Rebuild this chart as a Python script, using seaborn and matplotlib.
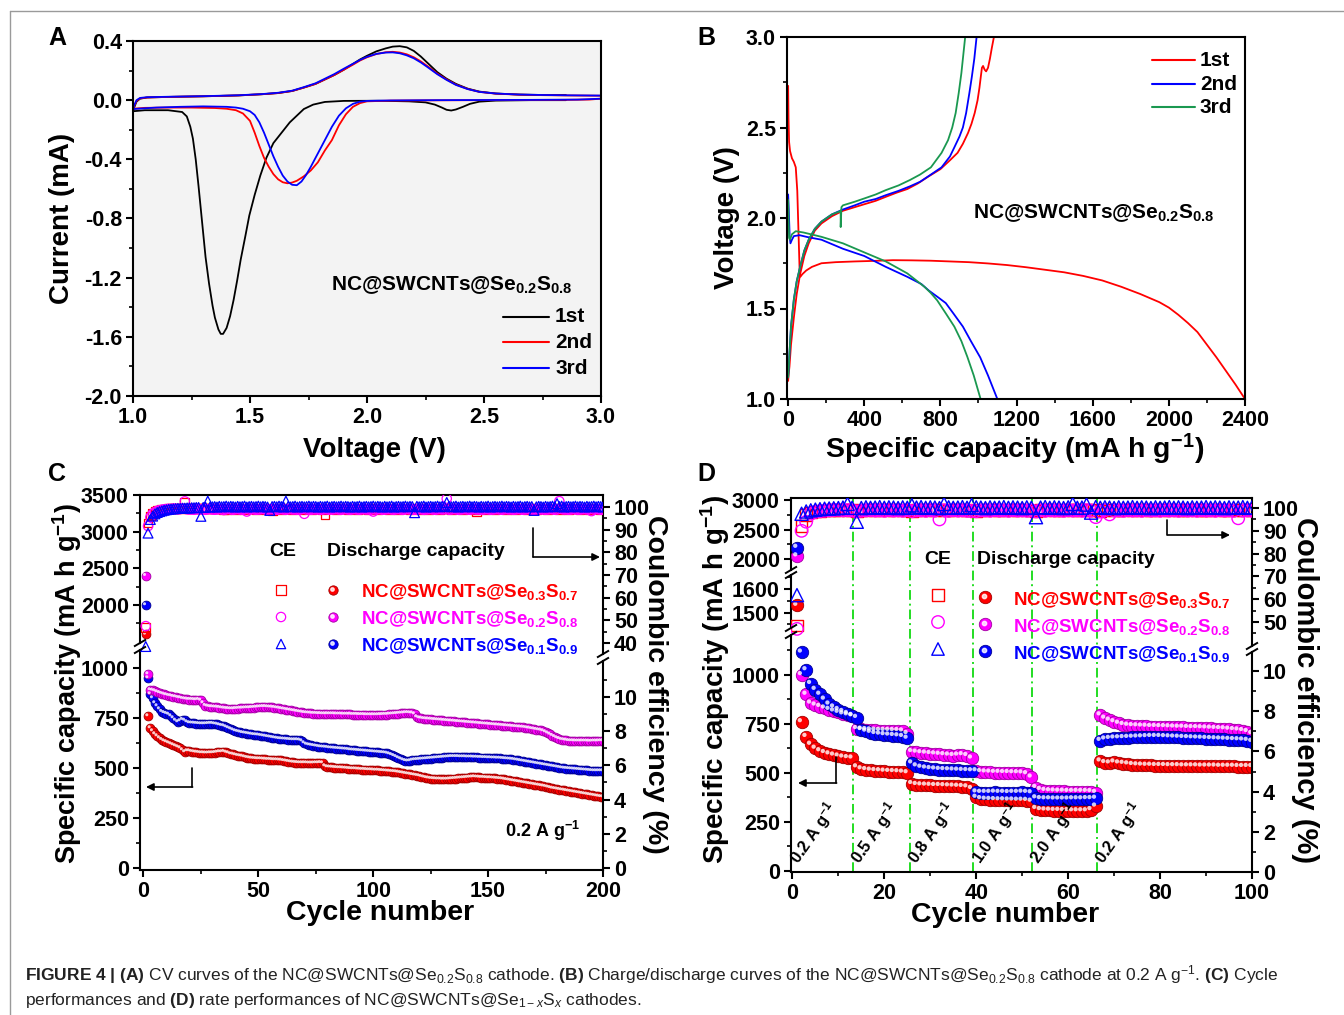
import numpy as np
import matplotlib
matplotlib.use("Agg")
import matplotlib.pyplot as plt
import matplotlib.transforms as mtransforms
from matplotlib.ticker import FixedLocator, FormatStrFormatter
import seaborn as sns

# ======================= DATA =======================
# ---- Panel A : CV curves (voltage V, current mA) ----
cv1_v = [2.85, 2.70, 2.55, 2.48, 2.44, 2.41, 2.38, 2.36, 2.34, 2.32, 2.29, 2.25, 2.18, 2.05, 1.90,
         1.82, 1.77, 1.73, 1.67, 1.60, 1.57, 1.544, 1.52, 1.497, 1.48, 1.46, 1.445, 1.43, 1.415, 1.40,
         1.385, 1.375, 1.365, 1.35, 1.34, 1.325, 1.31, 1.295, 1.28, 1.268, 1.256, 1.245, 1.23, 1.21,
         1.15, 1.05, 1.00,
         1.00, 1.005, 1.015, 1.03, 1.06, 1.15, 1.30, 1.45, 1.55, 1.62, 1.68, 1.73, 1.78, 1.82, 1.86,
         1.90, 1.94, 1.97, 2.00, 2.04, 2.08, 2.11, 2.14, 2.17, 2.20, 2.23, 2.26, 2.30, 2.34, 2.38,
         2.43, 2.48, 2.55, 2.65, 2.75, 2.85]
cv1_i = [0.000, 0.000, -0.003, -0.010, -0.025, -0.045, -0.063, -0.070, -0.065, -0.050, -0.030, -0.015,
         -0.008, -0.004, -0.005, -0.012, -0.030, -0.060, -0.150, -0.290, -0.390, -0.510, -0.640, -0.780,
         -0.920, -1.080, -1.220, -1.350, -1.460, -1.540, -1.580, -1.580, -1.550, -1.470, -1.390, -1.240,
         -1.060, -0.820, -0.580, -0.400, -0.260, -0.180, -0.110, -0.080, -0.068, -0.068, -0.075,
         -0.075, -0.050, -0.010, 0.010, 0.018, 0.022, 0.026, 0.032, 0.040, 0.048, 0.062, 0.085, 0.110,
         0.140, 0.170, 0.205, 0.245, 0.275, 0.300, 0.330, 0.350, 0.362, 0.365, 0.357, 0.333, 0.295,
         0.250, 0.190, 0.145, 0.110, 0.078, 0.058, 0.045, 0.038, 0.035, 0.035]
cv2_v = [3.00, 2.95, 2.85, 2.70, 2.50, 2.30, 2.10, 2.00, 1.97, 1.94, 1.91, 1.88, 1.85, 1.82, 1.79,
         1.76, 1.73, 1.70, 1.68, 1.66, 1.64, 1.62, 1.60, 1.58, 1.56, 1.54, 1.52, 1.50, 1.47, 1.44,
         1.40, 1.35, 1.25, 1.15, 1.05, 1.00,
         1.00, 1.005, 1.015, 1.03, 1.06, 1.15, 1.30, 1.45, 1.55, 1.62, 1.68, 1.73, 1.78, 1.82, 1.86,
         1.90, 1.94, 1.97, 2.00, 2.04, 2.08, 2.11, 2.14, 2.17, 2.20, 2.23, 2.26, 2.30, 2.34, 2.38,
         2.43, 2.48, 2.55, 2.65, 2.75, 2.85, 3.00]
cv2_i = [0.010, 0.004, 0.002, 0.001, 0.000, -0.001, -0.003, -0.008, -0.020, -0.045, -0.095, -0.170,
         -0.270, -0.340, -0.420, -0.475, -0.515, -0.545, -0.557, -0.562, -0.555, -0.535, -0.500, -0.450,
         -0.390, -0.310, -0.220, -0.140, -0.090, -0.068, -0.058, -0.053, -0.050, -0.050, -0.052, -0.058,
         -0.058, -0.040, -0.005, 0.012, 0.018, 0.022, 0.026, 0.032, 0.040, 0.048, 0.062, 0.085, 0.110,
         0.140, 0.170, 0.205, 0.240, 0.268, 0.290, 0.312, 0.324, 0.327, 0.322, 0.310, 0.290, 0.262,
         0.228, 0.180, 0.140, 0.105, 0.076, 0.056, 0.044, 0.037, 0.034, 0.032, 0.030]
cv3_v = [3.00, 2.90, 2.70, 2.50, 2.30, 2.10, 2.00, 1.97, 1.94, 1.91, 1.88, 1.85, 1.82, 1.79, 1.76,
         1.74, 1.72, 1.70, 1.68, 1.66, 1.64, 1.62, 1.60, 1.58, 1.56, 1.54, 1.52, 1.50, 1.47, 1.44,
         1.40, 1.30, 1.20, 1.10, 1.00,
         1.00, 1.005, 1.015, 1.03, 1.06, 1.15, 1.30, 1.45, 1.55, 1.62, 1.68, 1.73, 1.78, 1.82, 1.86,
         1.90, 1.94, 1.97, 2.00, 2.04, 2.08, 2.11, 2.14, 2.17, 2.20, 2.23, 2.26, 2.30, 2.34, 2.38,
         2.43, 2.48, 2.55, 2.65, 2.75, 2.85, 3.00]
cv3_i = [0.010, 0.004, 0.002, 0.001, 0.000, -0.002, -0.005, -0.010, -0.025, -0.055, -0.105, -0.180,
         -0.270, -0.360, -0.450, -0.505, -0.550, -0.575, -0.572, -0.550, -0.510, -0.450, -0.380, -0.300,
         -0.220, -0.150, -0.100, -0.075, -0.058, -0.050, -0.045, -0.042, -0.045, -0.050, -0.060,
         -0.060, -0.035, 0.000, 0.015, 0.020, 0.023, 0.027, 0.033, 0.041, 0.050, 0.064, 0.088, 0.114,
         0.145, 0.176, 0.212, 0.246, 0.272, 0.293, 0.313, 0.322, 0.323, 0.317, 0.303, 0.283, 0.255,
         0.222, 0.176, 0.137, 0.103, 0.075, 0.056, 0.045, 0.038, 0.035, 0.033, 0.031]

# ---- Panel B : charge/discharge (capacity mAh/g, voltage V) ----
b1_dis_cap = [0, 2, 5, 10, 20, 30, 40, 48, 55, 60, 64, 75, 95, 125, 175, 250, 350, 450, 550, 650,
              750, 850, 950, 1050, 1150, 1250, 1350, 1450, 1550, 1650, 1750, 1850, 1950, 2000, 2050,
              2100, 2150, 2200, 2250, 2300, 2350, 2400]
b1_dis_v = [2.73, 2.55, 2.42, 2.37, 2.33, 2.31, 2.28, 2.15, 1.90, 1.72, 1.675, 1.69, 1.71, 1.73, 1.75,
            1.756, 1.760, 1.763, 1.767, 1.766, 1.764, 1.760, 1.756, 1.749, 1.740, 1.728, 1.714, 1.700,
            1.680, 1.655, 1.620, 1.580, 1.535, 1.505, 1.465, 1.420, 1.370, 1.300, 1.230, 1.155, 1.080,
            1.000]
b1_chg_cap = [0, 3, 7, 15, 30, 45, 63, 85, 108, 140, 175, 230, 288, 350, 400, 460, 513, 570, 626, 680,
              738, 800, 851, 890, 918, 945, 963, 980, 995, 1005, 1012, 1018, 1024, 1032, 1040, 1050,
              1060, 1070, 1081]
b1_chg_v = [1.10, 1.14, 1.18, 1.30, 1.45, 1.58, 1.69, 1.79, 1.86, 1.93, 1.97, 2.01, 2.04, 2.06, 2.076,
            2.095, 2.117, 2.14, 2.16, 2.19, 2.23, 2.27, 2.32, 2.36, 2.41, 2.47, 2.52, 2.58, 2.65, 2.72,
            2.78, 2.83, 2.84, 2.82, 2.81, 2.83, 2.88, 2.94, 3.00]
b2_dis_cap = [0, 3, 8, 12, 20, 30, 60, 100, 175, 288, 400, 513, 626, 700, 738, 790, 828, 870, 918, 960,
              1009, 1050, 1099]
b2_dis_v = [2.13, 2.05, 1.90, 1.86, 1.88, 1.90, 1.905, 1.895, 1.88, 1.83, 1.79, 1.73, 1.675, 1.635,
            1.60, 1.56, 1.53, 1.47, 1.40, 1.32, 1.23, 1.13, 1.00]
b2_chg_cap = [0, 3, 7, 15, 30, 45, 63, 85, 108, 140, 175, 230, 288, 350, 400, 460, 513, 580, 640, 693,
              750, 806, 850, 873, 900, 918, 935, 952, 965, 978, 990]
b2_chg_v = [1.12, 1.17, 1.25, 1.40, 1.55, 1.65, 1.73, 1.82, 1.88, 1.94, 1.98, 2.02, 2.047, 2.07, 2.09,
            2.105, 2.126, 2.15, 2.175, 2.20, 2.24, 2.28, 2.34, 2.39, 2.45, 2.50, 2.58, 2.69, 2.78, 2.88,
            3.00]
b3_dis_cap = [0, 2, 5, 10, 20, 40, 80, 120, 175, 288, 400, 513, 626, 716, 750, 783, 830, 873, 910, 941,
              975, 1011]
b3_dis_v = [2.10, 2.00, 1.89, 1.88, 1.91, 1.927, 1.92, 1.91, 1.896, 1.86, 1.81, 1.76, 1.694, 1.62,
            1.585, 1.545, 1.47, 1.40, 1.32, 1.234, 1.13, 1.00]
b3_chg_cap = [0, 3, 7, 15, 30, 45, 63, 85, 108, 140, 175, 230, 268, 276, 276, 280, 288, 350, 400, 460,
              513, 580, 640, 693, 750, 806, 840, 862, 880, 896, 910, 920, 930]
b3_chg_v = [1.12, 1.17, 1.25, 1.40, 1.55, 1.65, 1.73, 1.82, 1.88, 1.94, 1.98, 2.02, 2.035, 2.04, 1.95,
            2.06, 2.07, 2.09, 2.108, 2.13, 2.154, 2.18, 2.21, 2.24, 2.28, 2.36, 2.43, 2.50, 2.58, 2.69,
            2.80, 2.90, 3.00]

# ---- Panel C : cycling at 0.2 A/g (200 cycles) ----
cycles_c = list(range(1, 201))
cap_c_se03 = [1600, 760, 700, 685, 670, 660, 650, 642, 635, 630,
              625, 620, 615, 610, 605, 600, 590, 580, 585, 585,
              582, 580, 578, 577, 575, 575, 574, 574, 575, 575,
              576, 578, 580, 580, 582, 578, 575, 570, 568, 565,
              562, 560, 558, 555, 552, 550, 548, 547, 546, 545,
              545, 544, 543, 542, 542, 541, 540, 540, 539, 538,
              536, 534, 532, 530, 528, 527, 526, 525, 525, 525,
              525, 524, 524, 524, 525, 525, 526, 525, 510, 505,
              504, 503, 502, 501, 500, 500, 499, 498, 497, 496,
              495, 495, 494, 493, 492, 492, 491, 490, 490, 489,
              488, 488, 487, 486, 485, 484, 483, 482, 481, 480,
              478, 476, 474, 472, 470, 468, 466, 464, 462, 460,
              457, 454, 451, 449, 447, 446, 445, 444, 444, 443,
              443, 443, 444, 445, 446, 447, 448, 449, 450, 451,
              452, 453, 454, 455, 454, 453, 452, 452, 451, 450,
              450, 449, 448, 447, 446, 445, 443, 441, 439, 437,
              435, 433, 431, 429, 427, 425, 423, 421, 419, 417,
              415, 413, 411, 409, 407, 404, 401, 398, 396, 394,
              392, 390, 388, 386, 384, 382, 380, 378, 376, 374,
              372, 370, 368, 366, 364, 362, 360, 358, 356, 355]
cap_c_se02 = [2400, 970, 890, 888, 885, 880, 876, 872, 868, 865,
              862, 860, 857, 855, 852, 850, 847, 845, 843, 842,
              842, 841, 840, 842, 838, 825, 812, 808, 806, 805,
              804, 803, 802, 800, 798, 797, 796, 795, 795, 796,
              797, 798, 798, 799, 800, 800, 801, 802, 803, 804,
              805, 806, 806, 805, 804, 803, 802, 800, 798, 796,
              794, 792, 790, 788, 786, 784, 782, 780, 778, 776,
              775, 774, 773, 772, 772, 771, 771, 770, 770, 770,
              770, 770, 770, 769, 769, 769, 768, 768, 768, 768,
              767, 767, 767, 766, 766, 766, 765, 765, 765, 765,
              765, 765, 766, 766, 767, 767, 768, 769, 770, 771,
              772, 773, 774, 775, 776, 775, 774, 770, 755, 750,
              748, 746, 745, 744, 743, 742, 741, 740, 739, 738,
              737, 736, 735, 734, 733, 732, 731, 730, 729, 728,
              727, 726, 725, 724, 723, 722, 721, 720, 719, 718,
              717, 716, 715, 714, 713, 712, 711, 710, 709, 708,
              707, 706, 705, 704, 703, 702, 700, 698, 696, 694,
              692, 690, 688, 685, 680, 674, 668, 662, 656, 650,
              646, 642, 640, 638, 636, 635, 635, 634, 634, 634,
              634, 634, 634, 633, 633, 634, 634, 634, 635, 635]
cap_c_se01 = [2000, 950, 870, 850, 825, 810, 795, 782, 776, 772,
              768, 760, 750, 738, 730, 735, 742, 738, 730, 725,
              724, 723, 722, 721, 720, 720, 720, 721, 722, 722,
              720, 718, 715, 712, 710, 705, 700, 695, 690, 685,
              682, 679, 676, 674, 672, 670, 668, 666, 665, 664,
              662, 660, 658, 656, 654, 652, 650, 648, 646, 645,
              644, 643, 642, 641, 640, 640, 640, 639, 635, 625,
              618, 615, 613, 611, 609, 607, 605, 604, 603, 602,
              600, 599, 598, 597, 596, 595, 594, 593, 592, 590,
              589, 588, 587, 586, 585, 584, 583, 582, 581, 580,
              579, 578, 577, 576, 575, 573, 570, 566, 561, 556,
              550, 545, 540, 536, 534, 535, 538, 540, 541, 542,
              543, 544, 545, 546, 547, 548, 549, 550, 551, 552,
              553, 554, 555, 556, 556, 556, 556, 555, 555, 555,
              554, 554, 554, 553, 553, 552, 552, 551, 551, 550,
              550, 549, 549, 548, 548, 547, 546, 545, 544, 543,
              542, 540, 538, 536, 534, 532, 530, 528, 526, 524,
              522, 520, 518, 516, 514, 512, 510, 508, 506, 504,
              502, 500, 498, 497, 496, 495, 494, 493, 492, 491,
              490, 489, 488, 487, 486, 485, 485, 485, 485, 485]
ce_c_se03 = [47.0, 93.0, 96.0, 97.2, 98.0, 98.4, 98.7, 98.9, 99.0, 99.1,
             99.2, 99.2, 99.3, 99.3, 99.4, 99.4, 99.6, 102.0, 99.5, 99.4,
             99.3, 99.2, 99.3, 99.4, 99.2, 99.3, 99.5, 99.4, 99.3, 99.2,
             99.1, 99.2, 99.3, 99.1, 98.9, 99.0, 99.2, 99.3, 99.1, 99.0,
             99.2, 99.3, 99.1, 99.0, 99.2, 99.4, 99.3, 99.1, 99.0, 99.2,
             99.3, 99.1, 99.0, 99.2, 98.8, 98.2, 99.1, 99.3, 99.2, 99.0,
             99.1, 99.2, 99.3, 99.1, 99.0, 99.2, 99.3, 99.1, 99.0, 99.2,
             99.3, 99.1, 99.0, 99.2, 99.1, 99.3, 99.2, 99.0, 96.6, 99.1,
             99.2, 99.3, 99.1, 99.0, 99.2, 99.3, 99.1, 99.2, 99.0, 99.1,
             99.3, 99.2, 99.0, 99.1, 99.3, 99.2, 99.1, 99.0, 99.2, 99.3,
             99.1, 99.0, 99.2, 99.3, 99.1, 99.2, 99.0, 99.1, 99.3, 99.2,
             99.0, 99.1, 99.3, 99.2, 99.1, 99.0, 99.2, 99.3, 99.1, 99.0,
             99.2, 99.3, 99.1, 99.0, 99.2, 99.1, 99.3, 99.2, 99.0, 99.1,
             99.3, 99.2, 99.1, 99.0, 99.2, 99.2, 99.3, 99.1, 99.0, 99.2,
             99.1, 99.3, 99.2, 99.0, 97.8, 99.3, 99.2, 99.1, 99.0, 99.2,
             99.3, 99.1, 99.0, 99.2, 99.3, 99.1, 99.2, 99.0, 99.1, 99.3,
             99.2, 99.0, 99.1, 99.3, 99.2, 99.1, 99.0, 99.2, 99.3, 99.1,
             99.0, 99.2, 99.3, 99.1, 99.2, 99.0, 99.1, 99.3, 99.2, 99.1,
             99.0, 99.2, 99.3, 99.1, 99.0, 99.2, 99.1, 99.3, 99.2, 99.0,
             99.1, 99.3, 99.2, 99.0, 99.1, 99.2, 99.3, 99.1, 99.0, 99.2]
ce_c_se02 = [47.5, 91.6, 95.5, 97.0, 97.8, 98.3, 98.6, 98.8, 99.0, 99.1,
             99.2, 99.1, 99.3, 99.2, 99.0, 99.1, 99.3, 102.5, 99.0, 98.9,
             99.0, 98.8, 99.1, 99.0, 98.9, 99.1, 98.8, 99.0, 99.2, 98.9,
             98.8, 99.0, 99.1, 98.9, 98.7, 99.0, 99.2, 98.9, 98.8, 99.0,
             99.1, 98.9, 98.8, 99.0, 98.0, 98.9, 99.1, 99.0, 98.8, 98.9,
             99.0, 99.2, 98.9, 98.8, 99.0, 99.1, 98.9, 98.8, 99.0, 99.1,
             98.9, 98.8, 99.0, 99.1, 98.9, 99.0, 98.8, 98.9, 99.1, 97.0,
             98.9, 99.0, 98.8, 99.1, 98.9, 99.0, 98.8, 98.9, 99.1, 99.0,
             98.8, 98.9, 99.0, 99.1, 98.9, 98.8, 99.0, 99.1, 98.9, 98.8,
             99.0, 99.1, 98.9, 98.8, 99.0, 99.1, 98.9, 99.0, 98.8, 98.0,
             98.9, 99.0, 99.1, 98.8, 98.9, 99.0, 99.1, 98.9, 98.8, 99.0,
             99.1, 98.9, 98.8, 99.0, 99.1, 98.9, 99.0, 98.8, 98.9, 99.1,
             99.0, 98.8, 98.9, 99.0, 99.1, 98.9, 98.8, 99.0, 99.1, 98.9,
             99.0, 103.7, 98.8, 98.9, 99.1, 99.0, 98.8, 98.9, 99.0, 99.1,
             98.9, 98.8, 99.0, 99.1, 98.9, 99.0, 98.8, 98.9, 99.1, 99.0,
             98.8, 98.9, 99.0, 99.1, 98.9, 98.8, 99.0, 99.1, 98.9, 99.0,
             98.8, 98.9, 99.1, 99.0, 98.8, 98.9, 99.0, 99.1, 98.9, 98.8,
             99.0, 99.1, 98.9, 99.0, 98.8, 98.9, 99.1, 99.0, 98.8, 98.9,
             102.6, 99.1, 98.9, 99.0, 98.8, 98.9, 99.1, 99.0, 98.8, 98.9,
             99.0, 99.1, 98.9, 99.0, 98.2, 98.9, 99.1, 99.0, 98.8, 98.9]
ce_c_se01 = [38.5, 88.5, 94.5, 96.0, 97.0, 97.6, 98.0, 98.3, 98.6, 98.8,
             99.0, 99.1, 99.2, 99.3, 99.4, 99.4, 99.5, 99.5, 99.6, 99.6,
             99.7, 99.7, 99.8, 99.8, 95.9, 99.8, 99.9, 102.6, 100.0, 100.1,
             100.2, 100.0, 100.3, 100.1, 100.2, 100.4, 100.1, 100.3, 100.2, 100.0,
             100.3, 100.1, 100.2, 100.4, 100.0, 100.2, 100.3, 100.1, 100.2, 100.4,
             100.1, 100.3, 100.2, 100.0, 98.5, 100.2, 100.3, 100.1, 100.4, 100.2,
             100.0, 102.6, 100.3, 100.1, 100.2, 100.4, 100.0, 100.2, 100.3, 100.1,
             100.2, 100.4, 100.1, 100.3, 100.2, 100.0, 100.3, 100.1, 100.2, 100.4,
             100.0, 100.2, 100.3, 100.1, 100.2, 100.4, 100.1, 100.3, 100.2, 100.0,
             100.3, 100.1, 100.2, 100.4, 100.0, 100.2, 100.3, 100.1, 100.2, 100.4,
             100.1, 100.3, 100.2, 100.0, 100.3, 100.1, 100.2, 100.4, 100.0, 100.2,
             100.3, 100.1, 100.2, 100.4, 100.1, 100.3, 100.2, 97.5, 100.3, 100.1,
             100.2, 100.4, 100.0, 100.2, 100.3, 100.1, 100.2, 100.4, 100.1, 100.3,
             100.2, 102.0, 100.3, 100.1, 100.2, 100.4, 100.0, 100.2, 100.3, 100.1,
             100.2, 100.4, 100.1, 100.3, 100.2, 100.0, 100.3, 100.1, 100.2, 100.4,
             100.0, 100.2, 100.3, 100.1, 100.2, 100.4, 100.1, 100.3, 100.2, 100.0,
             100.3, 100.1, 100.2, 100.4, 100.0, 100.2, 100.3, 100.1, 100.2, 98.5,
             100.1, 100.3, 100.2, 100.0, 100.3, 100.1, 100.2, 100.4, 100.1, 101.5,
             100.2, 100.4, 100.0, 100.2, 100.3, 100.1, 100.2, 100.4, 100.1, 100.3,
             100.2, 100.0, 100.3, 100.1, 100.2, 100.4, 100.1, 100.3, 100.2, 100.0]

# ---- Panel D : rate performance (100 cycles) ----
cycles_d = list(range(1, 101))
rate_bounds = [13.1, 25.6, 39.4, 52.1, 66.2]
rate_labels = ["0.2", "0.5", "0.8", "1.0", "2.0", "0.2"]
cap_d_se03 = [1530, 760, 685, 645, 625, 612, 603, 596, 590, 585, 580, 577, 575,
              530, 520, 516, 513, 511, 510, 508, 507, 506, 505, 503, 500,
              445, 440, 438, 437, 436, 435, 435, 434, 433, 432, 431, 430, 428, 420,
              375, 368, 365, 364, 363, 362, 362, 361, 361, 360, 360, 359, 355,
              318, 312, 310, 309, 308, 308, 307, 307, 306, 306, 306, 306, 312, 330,
              560, 552, 550, 555, 550, 548, 545, 542, 540, 539, 538, 538, 537, 537, 537, 536, 536,
              536, 535, 535, 535, 535, 534, 534, 534, 534, 533, 533, 533, 533, 532, 532, 532, 532]
cap_d_se02 = [2050, 1000, 900, 855, 845, 838, 830, 823, 815, 808, 800, 795, 790,
              725, 722, 720, 718, 717, 716, 716, 716, 715, 715, 713, 700,
              608, 605, 602, 600, 598, 596, 594, 592, 590, 588, 590, 592, 588, 575,
              510, 506, 504, 503, 502, 502, 501, 501, 500, 500, 499, 495, 478,
              425, 415, 410, 408, 407, 406, 406, 405, 405, 405, 405, 405, 404, 400,
              795, 778, 768, 760, 752, 746, 742, 740, 739, 738, 737, 736, 736, 735, 735, 734, 733,
              732, 732, 731, 730, 730, 729, 728, 727, 726, 725, 724, 722, 720, 718, 715, 710, 700]
cap_d_se01 = [2195, 1115, 1025, 955, 925, 900, 875, 850, 835, 822, 812, 802, 792,
              782, 720, 712, 706, 700, 697, 694, 692, 690, 688, 685, 676,
              550, 535, 528, 524, 521, 519, 517, 516, 515, 514, 513, 512, 511, 510,
              402, 400, 400, 400, 401, 400, 400, 399, 400, 400, 401, 400, 398,
              372, 368, 367, 367, 366, 366, 366, 366, 367, 367, 367, 368, 368, 370,
              665, 672, 675, 677, 678, 679, 680, 681, 682, 683, 684, 685, 685, 685, 684, 683, 682,
              681, 680, 679, 678, 677, 676, 675, 674, 673, 672, 671, 670, 669, 668, 667, 665, 660]
ce_d_se03 = [48.5, 92.0, 97.0, 98.0, 98.5, 98.8, 99.0, 99.1, 99.2, 99.2,
             99.3, 99.2, 99.1, 98.6, 99.0, 99.2, 99.3, 99.2, 99.1, 99.3,
             99.2, 99.1, 99.3, 99.2, 99.0, 98.7, 99.1, 99.2, 99.3, 99.1,
             99.2, 99.3, 99.1, 99.0, 99.2, 99.3, 99.1, 99.2, 99.0, 98.8,
             99.1, 99.2, 99.3, 99.1, 99.2, 99.0, 99.3, 99.2, 99.1, 99.3,
             99.2, 99.0, 98.7, 99.1, 99.2, 99.3, 99.1, 99.2, 99.0, 99.3,
             99.2, 99.1, 99.3, 99.2, 99.0, 99.1, 98.6, 99.2, 99.3, 99.1,
             99.2, 99.0, 99.3, 99.2, 99.1, 99.3, 99.2, 99.0, 99.1, 99.3,
             99.2, 99.1, 99.3, 99.2, 99.0, 99.1, 99.3, 99.2, 99.1, 99.0,
             99.2, 99.3, 99.1, 99.2, 99.0, 99.3, 99.2, 99.1, 99.3, 99.2]
ce_d_se02 = [47.0, 90.0, 94.0, 97.5, 98.3, 98.6, 98.8, 99.0, 99.1, 99.2,
             99.0, 99.1, 98.9, 98.5, 98.8, 99.0, 99.1, 98.9, 99.0, 98.8,
             99.1, 98.9, 99.0, 98.8, 99.1, 98.6, 98.9, 99.0, 98.8, 99.1,
             98.9, 95.0, 99.0, 98.8, 99.1, 98.9, 99.0, 98.8, 98.7, 98.6,
             98.9, 99.0, 98.8, 99.1, 98.9, 99.0, 98.8, 99.1, 98.9, 99.0,
             98.8, 98.9, 98.5, 99.0, 98.8, 99.1, 98.9, 99.0, 98.8, 99.1,
             98.9, 99.0, 98.8, 99.1, 98.9, 96.0, 98.5, 99.0, 97.2, 98.9,
             99.0, 98.8, 99.1, 98.9, 99.0, 98.8, 99.1, 98.9, 99.0, 98.8,
             99.1, 98.9, 99.0, 98.8, 99.1, 98.9, 99.0, 98.8, 99.1, 98.9,
             99.0, 98.8, 99.1, 98.9, 99.0, 98.8, 95.5, 98.9, 99.0, 98.8]
ce_d_se01 = [61.8, 97.5, 98.5, 99.0, 99.3, 99.5, 99.7, 99.8, 99.9, 100.0,
             100.2, 101.8, 100.1, 94.0, 100.0, 100.3, 100.1, 100.2, 100.4, 100.1,
             100.3, 100.2, 100.0, 100.3, 100.1, 101.2, 100.2, 100.4, 100.1, 100.3,
             100.2, 100.0, 101.8, 100.3, 100.1, 100.2, 100.4, 100.1, 101.3, 100.3,
             100.2, 100.0, 100.3, 100.1, 100.2, 100.4, 100.1, 100.3, 100.2, 100.0,
             100.3, 100.1, 96.0, 100.2, 100.4, 100.1, 100.3, 100.2, 100.0, 100.3,
             101.8, 100.1, 100.2, 101.5, 98.0, 100.4, 100.1, 100.3, 100.2, 100.0,
             100.3, 100.1, 100.2, 100.4, 100.1, 100.3, 100.2, 100.0, 100.3, 100.1,
             100.2, 100.4, 100.1, 100.3, 100.2, 100.0, 100.3, 100.1, 100.2, 100.4,
             100.1, 100.3, 100.2, 100.0, 100.3, 100.1, 100.2, 100.4, 100.1, 100.3]

# ======================= STYLE =======================
sns.set_theme(style="ticks")
plt.rcParams["font.family"] = ["Liberation Sans", "DejaVu Sans"]
plt.rcParams["font.weight"] = "bold"
plt.rcParams["mathtext.fontset"] = "custom"
plt.rcParams["mathtext.rm"] = "Liberation Sans:regular"
plt.rcParams["mathtext.it"] = "Liberation Sans:italic:regular"
plt.rcParams["mathtext.bf"] = "Liberation Sans:bold"
plt.rcParams["mathtext.sf"] = "Liberation Sans:regular"
plt.rcParams["axes.unicode_minus"] = False
for k in ["text.color", "axes.labelcolor", "xtick.color", "ytick.color", "axes.edgecolor"]:
    plt.rcParams[k] = "black"

RED, MAG, BLU, GRN = "#ff0000", "#ff00ff", "#0000ff", "#1a9850"
W, H = 1344, 1015
fig = plt.figure(figsize=(W / 100, H / 100), dpi=100)


def box(x0, y0, x1, y1):
    return [x0 / W, 1 - y1 / H, (x1 - x0) / W, (y1 - y0) / H]


def only_spines(ax, *keep):
    for s in ["left", "right", "top", "bottom"]:
        ax.spines[s].set_visible(s in keep)
        ax.spines[s].set_linewidth(1.5)
        ax.spines[s].set_color("black")


def tickstyle(ax, size=15.5):
    ax.tick_params(which="major", direction="out", length=5, width=1.5, labelsize=size, pad=3)
    ax.tick_params(which="minor", direction="out", length=3, width=1.2)


def set_ticks(axis, major, minor, fmt):
    axis.set_major_locator(FixedLocator(major))
    axis.set_minor_locator(FixedLocator(minor))
    axis.set_major_formatter(FormatStrFormatter(fmt))


# ---------------- Panel A ----------------
axA = fig.add_axes(box(133, 41, 601, 396))
axA.set_facecolor("#f3f3f3")
for v, i, c in [(cv1_v, cv1_i, "black"), (cv2_v, cv2_i, RED), (cv3_v, cv3_i, BLU)]:
    sns.lineplot(x=v, y=i, sort=False, estimator=None, color=c, lw=1.3, ax=axA)
axA.set_xlim(1.0, 3.0)
axA.set_ylim(-2.0, 0.4)
only_spines(axA, "left", "right", "top", "bottom")
set_ticks(axA.xaxis, [1.0, 1.5, 2.0, 2.5, 3.0], [1.25, 1.75, 2.25, 2.75], "%.1f")
set_ticks(axA.yaxis, [-2.0, -1.6, -1.2, -0.8, -0.4, 0.0, 0.4], [-1.8, -1.4, -1.0, -0.6, -0.2, 0.2], "%.1f")
tickstyle(axA)
axA.tick_params(top=False, right=False, which="both")

# ---------------- Panel B ----------------
axB = fig.add_axes(box(787, 37, 1245, 399))
for cap, vv, c in [(b1_dis_cap, b1_dis_v, RED), (b1_chg_cap, b1_chg_v, RED),
                   (b2_dis_cap, b2_dis_v, BLU), (b2_chg_cap, b2_chg_v, BLU),
                   (b3_dis_cap, b3_dis_v, GRN), (b3_chg_cap, b3_chg_v, GRN)]:
    sns.lineplot(x=cap, y=vv, sort=False, estimator=None, color=c, lw=1.3, ax=axB)
axB.set_xlim(-6, 2400)
axB.set_ylim(1.0, 3.0)
only_spines(axB, "left", "right", "top", "bottom")
set_ticks(axB.xaxis, [0, 400, 800, 1200, 1600, 2000, 2400], [200, 600, 1000, 1400, 1800, 2200], "%d")
set_ticks(axB.yaxis, [1.0, 1.5, 2.0, 2.5, 3.0], [1.25, 1.75, 2.25, 2.75], "%.1f")
tickstyle(axB)
axB.tick_params(top=False, right=False, which="both")


# ---------------- helpers for C / D ----------------
def seg_axes(rect, xlim, ylim, major, minor, side, size=15.5):
    ax = fig.add_axes(rect)
    ax.set_facecolor("none")
    only_spines(ax, side)
    ax.set_xlim(*xlim)
    ax.set_ylim(*ylim)
    ax.tick_params(axis="x", which="both", bottom=False, top=False, labelbottom=False, labeltop=False)
    set_ticks(ax.yaxis, major, minor, "%d")
    if side == "right":
        ax.yaxis.tick_right()
    tickstyle(ax, size)
    return ax


def spheres(axes, x, y, color, edge, s):
    for ax in axes:
        sns.scatterplot(x=x, y=y, ax=ax, s=s, color=color, edgecolor=edge, linewidth=0.6,
                        legend=False, zorder=3)
        off = mtransforms.offset_copy(ax.transData, fig=fig, x=-0.14 * np.sqrt(s),
                                      y=0.14 * np.sqrt(s), units="points")
        sns.scatterplot(x=x, y=y, ax=ax, s=s * 0.12, color="white", alpha=0.8, edgecolor="none",
                        linewidth=0, legend=False, zorder=4, transform=off)


def opens(axes, x, y, color, marker, s, lw):
    for ax in axes:
        sns.scatterplot(x=x, y=y, ax=ax, s=s, marker=marker, facecolor="none", edgecolor=color,
                        linewidth=lw, legend=False, zorder=5)


# ---------------- Panel C ----------------
xlimC = (-1.5, 200)
axCf = fig.add_axes(box(140, 495, 603, 870))
only_spines(axCf, "top", "bottom")
axCf.set_xlim(*xlimC)
axCf.set_ylim(0, 1)
axCf.set_yticks([])
set_ticks(axCf.xaxis, [0, 50, 100, 150, 200], [25, 75, 125, 175], "%d")
tickstyle(axCf)
axCf.tick_params(axis="x", which="both", top=False)

cC1 = seg_axes(box(140, 495, 603, 643), xlimC, (1482, 3500), [2000, 2500, 3000, 3500],
               [1750, 2250, 2750, 3250], "left")
cC2 = seg_axes(box(140, 650, 603, 870), xlimC, (-10, 1090), [0, 250, 500, 750, 1000],
               [125, 375, 625, 875], "left")
eC1 = seg_axes(box(140, 495, 603, 654), xlimC, (35.2, 105.3), [40, 50, 60, 70, 80, 90, 100],
               [45, 55, 65, 75, 85, 95], "right")
eC2 = seg_axes(box(140, 661, 603, 870), xlimC, (-0.12, 12.1), [0, 2, 4, 6, 8, 10],
               [1, 3, 5, 7, 9, 11], "right")

spheres([cC1, cC2], cycles_c, cap_c_se03, RED, "#a00000", 40)
spheres([cC1, cC2], cycles_c, cap_c_se01, BLU, "#000090", 40)
spheres([cC1, cC2], cycles_c, cap_c_se02, MAG, "#a000a0", 40)
opens([eC1, eC2], cycles_c, ce_c_se03, RED, "s", 40, 0.9)
opens([eC1, eC2], cycles_c, ce_c_se02, MAG, "o", 45, 0.9)
opens([eC1, eC2], cycles_c, ce_c_se01, BLU, "^", 50, 0.9)

# ---------------- Panel D ----------------
xlimD = (-0.3, 100)
axDf = fig.add_axes(box(791, 498, 1252, 872))
only_spines(axDf, "top", "bottom")
axDf.set_xlim(*xlimD)
axDf.set_ylim(0, 1)
axDf.set_yticks([])
set_ticks(axDf.xaxis, [0, 20, 40, 60, 80, 100], [10, 30, 50, 70, 90], "%d")
tickstyle(axDf)
axDf.tick_params(axis="x", which="both", top=False)
for b in rate_bounds:
    axDf.axvline(b, color="#22dd22", lw=1.4, ls=(0, (5, 2, 1, 2)), zorder=1)

dC1 = seg_axes(box(791, 498, 1252, 570), xlimD, (1814, 3034), [2000, 2500, 3000],
               [2250, 2750], "left")
dC2 = seg_axes(box(791, 575, 1252, 628), xlimD, (1434, 1660), [1500, 1600],
               [1450, 1550, 1650], "left")
dC3 = seg_axes(box(791, 635, 1252, 872), xlimD, (-5, 1203), [0, 250, 500, 750, 1000],
               [125, 375, 625, 875, 1125], "left")
eD1 = seg_axes(box(791, 498, 1252, 646), xlimD, (39.5, 104.4), [50, 60, 70, 80, 90, 100],
               [45, 55, 65, 75, 85, 95], "right")
eD2 = seg_axes(box(791, 652, 1252, 872), xlimD, (0, 10.95), [0, 2, 4, 6, 8, 10],
               [1, 3, 5, 7, 9], "right")

spheres([dC1, dC2, dC3], cycles_d, cap_d_se03, RED, "#a00000", 80)
spheres([dC1, dC2, dC3], cycles_d, cap_d_se02, MAG, "#a000a0", 80)
spheres([dC1, dC2, dC3], cycles_d, cap_d_se01, BLU, "#000090", 80)
opens([eD1, eD2], cycles_d, ce_d_se03, RED, "s", 70, 1.0)
opens([eD1, eD2], cycles_d, ce_d_se02, MAG, "o", 80, 1.0)
opens([eD1, eD2], cycles_d, ce_d_se01, BLU, "^", 90, 1.0)

starts = [0.0] + rate_bounds
for st, lab in zip(starts, rate_labels):
    dC3.text(st + 2.4, 16, lab + r" A g$^{\mathbf{-1}}$", rotation=55, rotation_mode="anchor",
             ha="left", va="bottom", fontsize=12, fontweight="bold", zorder=6)

# ======================= OVERLAY (pixel coords) =======================
ov = fig.add_axes([0, 0, 1, 1])
ov.set_xlim(0, W)
ov.set_ylim(H, 0)
ov.axis("off")


def T(x, y, s, size, color="black", ha="center", va="center", rot=0, weight="bold"):
    ov.text(x, y, s, fontsize=size, color=color, ha=ha, va=va, rotation=rot, fontweight=weight)


def brk(x, y):
    ov.plot([x - 6, x + 6], [y + 3.5, y - 3.5], color="black", lw=1.4, solid_capstyle="butt")


def elbow_arrow(x0, y0, y1, x1):
    ov.plot([x0, x0], [y0, y1], color="black", lw=1.2)
    ov.annotate("", xy=(x1, y1), xytext=(x0 + 0.6, y1),
                arrowprops=dict(arrowstyle="-|>", color="black", lw=1.2, mutation_scale=11,
                                shrinkA=0, shrinkB=0))


# frame lines of the figure
ov.plot([10, W], [11, 11], color="#9a9a9a", lw=1.0)
ov.plot([10, 10], [11, H], color="#9a9a9a", lw=1.0)

# panel letters
for x, y, s in [(57, 38, "A"), (706, 38, "B"), (57, 474, "C"), (706, 474, "D")]:
    T(x, y, s, 18)

# axis labels
T(374, 450, "Voltage (V)", 20)
T(62, 218, "Current (mA)", 20, rot=90)
T(1015, 449, r"Specific capacity (mA h g$^{\mathbf{-1}}$)", 20.5)
T(727, 218, "Voltage (V)", 20, rot=90)
T(380, 913, "Cycle number", 20.5)
T(67, 684, r"Specific capacity (mA h g$^{\mathbf{-1}}$)", 19.5, rot=90)
T(655, 684, "Coulombic efficiency (%)", 20.5, rot=270)
T(1005, 915, "Cycle number", 20.5)
T(715, 679, r"Specific capacity (mA h g$^{\mathbf{-1}}$)", 20, rot=90)
T(1305, 690, "Coulombic efficiency (%)", 21, rot=270)

# Panel A / B annotations and legends
T(331, 290, r"NC@SWCNTs@Se$_{\mathbf{0.2}}$S$_{\mathbf{0.8}}$", 15, ha="left", va="baseline")
T(973, 218, r"NC@SWCNTs@Se$_{\mathbf{0.2}}$S$_{\mathbf{0.8}}$", 15, ha="left", va="baseline")
for y, lab, c in [(317, "1st", "black"), (342, "2nd", RED), (368, "3rd", BLU)]:
    ov.plot([503, 549], [y, y], color=c, lw=1.5)
    T(555, y, lab, 15, ha="left")
for y, lab, c in [(60, "1st", RED), (84, "2nd", BLU), (107, "3rd", GRN)]:
    ov.plot([1152, 1195], [y, y], color=c, lw=1.5)
    T(1200, y, lab, 15, ha="left")

# break marks
for x, y in [(140, 643), (140, 650), (603, 654), (603, 661),
             (791, 570), (791, 575), (791, 628), (791, 635), (1252, 646), (1252, 652)]:
    brk(x, y)

# Panel C legend and notes
T(283, 551, "CE", 14)
T(416, 551, "Discharge capacity", 14)
leg_names = [r"NC@SWCNTs@Se$_{\mathbf{0.3}}$S$_{\mathbf{0.7}}$",
             r"NC@SWCNTs@Se$_{\mathbf{0.2}}$S$_{\mathbf{0.8}}$",
             r"NC@SWCNTs@Se$_{\mathbf{0.1}}$S$_{\mathbf{0.9}}$"]
leg_cols = [(RED, "#a00000", "s"), (MAG, "#a000a0", "o"), (BLU, "#000090", "^")]
for (y, name, (c, e, m)) in zip([590, 617, 644], leg_names, leg_cols):
    ov.scatter([281], [y], s=45, marker=m, facecolors="none", edgecolors=c, linewidths=0.9)
    ov.scatter([333], [y], s=45, color=c, edgecolors=e, linewidths=0.6)
    ov.scatter([332], [y - 1.2], s=6, color="white", alpha=0.8)
    T(361, y + 7, name, 13.5, color=c, ha="left", va="baseline")
T(543, 831, r"0.2 A g$^{\mathbf{-1}}$", 13)
elbow_arrow(192, 768, 787, 146)
elbow_arrow(532.5, 528, 557, 600)

# Panel D legend
T(938, 559, "CE", 14)
T(1066, 559, "Discharge capacity", 14)
for (y, name, (c, e, m)) in zip([597, 624, 651], leg_names, leg_cols):
    ov.scatter([938], [y - 2], s=80, marker=m, facecolors="none", edgecolors=c, linewidths=1.0)
    ov.scatter([985], [y], s=80, color=c, edgecolors=e, linewidths=0.6)
    ov.scatter([983.7], [y - 1.5], s=10, color="white", alpha=0.8)
    T(1013, y + 8, name, 13.5, color=c, ha="left", va="baseline")
elbow_arrow(836, 757, 783, 798)
elbow_arrow(1167, 520, 535, 1230)

# caption
cap1 = (r"$\mathbf{FIGURE\ 4\ |\ (A)}$ CV curves of the NC@SWCNTs@Se$_{0.2}$S$_{0.8}$ cathode. "
        r"$\mathbf{(B)}$ Charge/discharge curves of the NC@SWCNTs@Se$_{0.2}$S$_{0.8}$ cathode at "
        r"0.2 A g$^{-1}$. $\mathbf{(C)}$ Cycle")
cap2 = r"performances and $\mathbf{(D)}$ rate performances of NC@SWCNTs@Se$_{1-x}$S$_{x}$ cathodes."
T(25, 975, cap1, 12.5, color="#222222", ha="left", weight="normal")
T(25, 1000, cap2, 12.5, color="#222222", ha="left", weight="normal")

fig.savefig("out.png", dpi=100)
